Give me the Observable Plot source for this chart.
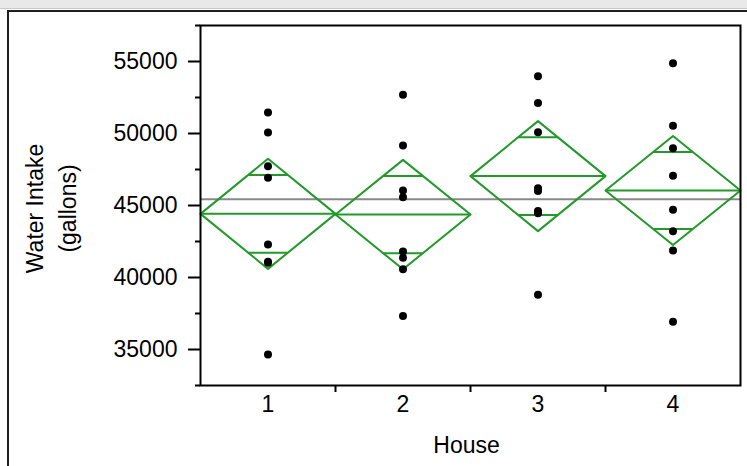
<!DOCTYPE html>
<html>
<head>
<meta charset="utf-8">
<script src="https://cdn.jsdelivr.net/npm/d3@7"></script>
<script src="https://cdn.jsdelivr.net/npm/@observablehq/plot@0.6"></script>
<style>
  html, body { margin: 0; padding: 0; background: white; }
  #wrap { position: relative; width: 747px; height: 466px; overflow: hidden; }
  .deco { position: absolute; pointer-events: none; }
</style>
</head>
<body>
<div id="wrap">
  <div id="chart"></div>
  <div class="deco" style="left:0;top:0;width:747px;height:9px;background:#e9e9e9;"></div>
  <div class="deco" style="left:0;top:8px;width:747px;height:1px;background:#c9c9c9;"></div>
  <div class="deco" style="left:7px;top:10px;width:740px;height:2px;background:#1e1e1e;"></div>
  <div class="deco" style="left:7px;top:10px;width:2px;height:456px;background:#1e1e1e;"></div>
</div>
<script>
// Categories and tick labels
const houses = [1, 2, 3, 4];
const houseLabels = ["1", "2", "3", "4"];
const yMajorTicks = [35000, 40000, 45000, 50000, 55000];
const yMinorTicks = [32500, 37500, 42500, 47500, 52500, 57500];

// Group means and 95% CI half-widths (means diamonds)
const means = [44420, 44370, 47040, 46040];
const ciHalf = [3820, 3800, 3820, 3780];
const grandMean = 45440;

// Observations per house
const house1 = [51460, 50070, 47730, 46920, 42290, 41100, 41020, 34650];
const house2 = [52690, 49170, 46040, 45580, 41810, 41370, 40580, 37320];
const house3 = [53980, 52110, 50090, 46200, 46000, 44610, 44470, 38800];
const house4 = [54880, 50540, 48980, 47060, 44700, 43220, 41880, 36920];

const green = "#22992a";
const k = Math.SQRT1_2;

const points = [house1, house2, house3, house4].flatMap((vals, i) =>
  vals.map(v => ({house: houses[i], value: v})));

const groups = houses.map((h, i) => ({house: h, mean: means[i], half: ciHalf[i]}));

const diamondRows = groups.flatMap(g => [
  {house: g.house, x: g.house - 0.5, y: g.mean},
  {house: g.house, x: g.house, y: g.mean + g.half},
  {house: g.house, x: g.house + 0.5, y: g.mean},
  {house: g.house, x: g.house, y: g.mean - g.half},
  {house: g.house, x: g.house - 0.5, y: g.mean}
]);

const overlapRows = groups.flatMap(g => [
  {house: g.house, y: g.mean + g.half * k},
  {house: g.house, y: g.mean - g.half * k}
]);

const chart = Plot.plot({
  width: 747,
  height: 466,
  marginLeft: 200,
  marginRight: 7,
  marginTop: 25,
  marginBottom: 81,
  style: {fontFamily: "'Liberation Sans', Arial, sans-serif", fontSize: "23px", background: "white", color: "black"},
  x: {domain: [0.5, 4.5], axis: null},
  y: {domain: [32500, 57500], axis: null},
  marks: [
    Plot.ruleY([grandMean], {stroke: "#888888", strokeWidth: 2}),
    Plot.line(diamondRows, {x: "x", y: "y", z: "house", stroke: green, strokeWidth: 2}),
    Plot.link(groups, {x1: d => d.house - 0.5, x2: d => d.house + 0.5, y1: "mean", y2: "mean", stroke: green, strokeWidth: 2}),
    Plot.link(overlapRows, {x1: d => d.house - 0.5 * (1 - k), x2: d => d.house + 0.5 * (1 - k), y1: "y", y2: "y", stroke: green, strokeWidth: 2}),
    Plot.dot(points, {x: "house", y: "value", r: 4, fill: "black", stroke: null}),
    Plot.frame({stroke: "black", strokeWidth: 2}),
    Plot.axisY(yMajorTicks, {anchor: "left", tickSize: 12, tickPadding: 11, strokeWidth: 2, label: null, tickFormat: d => String(d)}),
    Plot.axisY(yMinorTicks, {anchor: "left", tickSize: 5, strokeWidth: 2, label: null, tickFormat: () => ""}),
    Plot.axisX([1.5, 2.5, 3.5], {anchor: "bottom", tickSize: 7, strokeWidth: 2, label: null, tickFormat: () => ""}),
    Plot.axisX(houses, {anchor: "bottom", tickSize: 0, tickPadding: 10, label: null, tickFormat: d => houseLabels[d - 1]}),
    Plot.text(["House"], {frameAnchor: "bottom", dy: 60, dx: -4, lineAnchor: "middle", fill: "black"}),
    Plot.text(["Water Intake\n(gallons)"], {frameAnchor: "left", textAnchor: "middle", lineAnchor: "middle", rotate: -90, dx: -152, dy: 3, lineHeight: 1.45, fill: "black"})
  ]
});
document.getElementById("chart").appendChild(chart);
</script>
</body>
</html>
